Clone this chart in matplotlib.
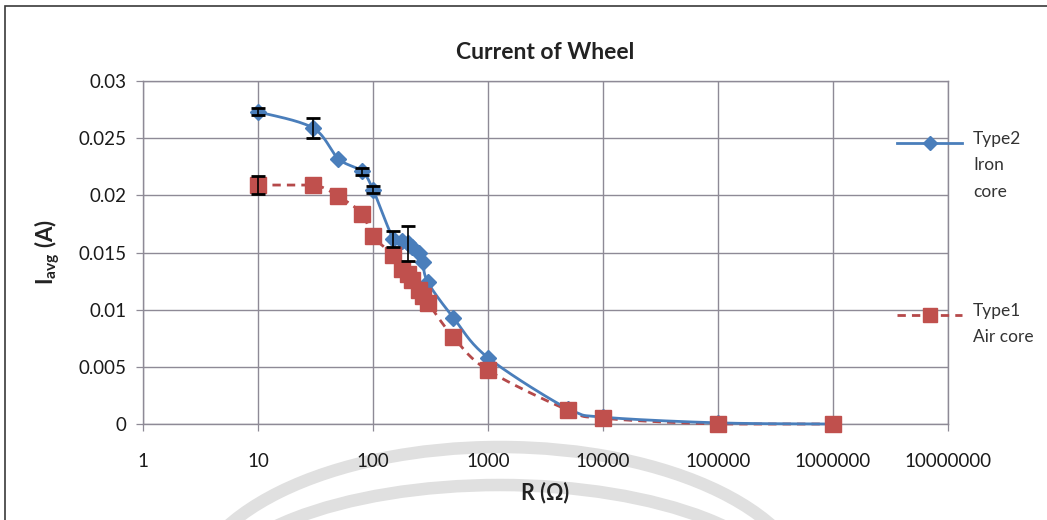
import numpy as np
import matplotlib
matplotlib.use("Agg")
import matplotlib.pyplot as plt
from matplotlib.lines import Line2D
from matplotlib.patches import Arc, Rectangle

plt.rcParams['font.family'] = ['Lato', 'DejaVu Sans']
plt.rcParams['mathtext.fontset'] = 'custom'
plt.rcParams['mathtext.rm'] = 'Lato'
plt.rcParams['mathtext.bf'] = 'Lato:bold'

# Resistance values (ohm)
resistance = [10, 30, 50, 80, 100, 150, 180, 200, 220, 250, 270, 300,
              500, 1000, 5000, 10000, 100000, 1000000]

# Type2, iron core: average current (A) and error
iron_current = [0.0273, 0.0259, 0.0232, 0.0221, 0.0205, 0.0162, 0.0160, 0.0158,
                0.0155, 0.0150, 0.0142, 0.0124, 0.0093, 0.0058, 0.0013, 0.0006,
                0.0001, 0.0000]
iron_error = [0.0003, 0.0009, 0.0, 0.0003, 0.0003, 0.0007, 0.0, 0.0015,
              0.0, 0.0, 0.0, 0.0, 0.0, 0.0, 0.0, 0.0, 0.0, 0.0]

# Type1, air core: average current (A) and error
air_current = [0.0209, 0.0209, 0.0199, 0.0184, 0.0164, 0.0148, 0.0136, 0.0131,
               0.0126, 0.0117, 0.0112, 0.0106, 0.0076, 0.0047, 0.0012, 0.0005,
               0.0000, 0.0000]
air_error = [0.0008, 0.0, 0.0, 0.0, 0.0, 0.0, 0.0, 0.0, 0.0, 0.0, 0.0, 0.0,
             0.0, 0.0, 0.0, 0.0, 0.0, 0.0]

x_ticks = [1, 10, 100, 1000, 10000, 100000, 1000000, 10000000]
x_tick_labels = ['1', '10', '100', '1000', '10000', '100000', '1000000', '10000000']
y_ticks = [0, 0.005, 0.01, 0.015, 0.02, 0.025, 0.03]
y_tick_labels = ['0', '0.005', '0.01', '0.015', '0.02', '0.025', '0.03']

BLUE = '#4a7ebb'
RED = '#c0504d'
RED_LINE = '#b5494a'
GRID = '#8e8a96'
DASH = (0, (3.0, 2.2))


def smooth_curve(xs, ys, steps=20):
    """Bezier smoothing through points in (log10 x, y) space, without overshoot."""
    lx = np.log10(np.asarray(xs, float))
    y = np.asarray(ys, float)
    px = np.concatenate([[lx[0]], lx, [lx[-1]]])
    py = np.concatenate([[y[0]], y, [y[-1]]])
    out_x, out_y = [], []
    t = np.linspace(0, 1, steps)
    for i in range(1, len(px) - 2):
        p0, p1, p2, p3 = px[i - 1], px[i], px[i + 1], px[i + 2]
        q0, q1, q2, q3 = py[i - 1], py[i], py[i + 1], py[i + 2]
        s = 1 / 6
        lo, hi = min(q1, q2), max(q1, q2)
        c1x, c1y = p1 + (p2 - p0) * s, np.clip(q1 + (q2 - q0) * s, lo, hi)
        c2x, c2y = p2 - (p3 - p1) * s, np.clip(q2 - (q3 - q1) * s, lo, hi)
        bx = ((1 - t) ** 3) * p1 + 3 * ((1 - t) ** 2) * t * c1x + 3 * (1 - t) * t ** 2 * c2x + t ** 3 * p2
        by = ((1 - t) ** 3) * q1 + 3 * ((1 - t) ** 2) * t * c1y + 3 * (1 - t) * t ** 2 * c2y + t ** 3 * q2
        out_x.extend(bx)
        out_y.extend(by)
    return 10 ** np.array(out_x), np.array(out_y)


W, H = 1047, 520
fig = plt.figure(figsize=(W / 100, H / 100), dpi=100)
fig.patch.set_facecolor('white')

# chart-area frame (open towards the right and bottom edges)
fig.add_artist(Rectangle((5 / W, -0.2), 1.2, 1.2 - 6 / H, transform=fig.transFigure,
                         fill=False, edgecolor='#3a3a3a', linewidth=1.2, zorder=0))

# faint watermark arcs
for rx, ry, cx, cy in [(311, 153, 500, 600), (292, 115, 500, 600)]:
    fig.add_artist(Arc((cx / W, 1 - cy / H), 2 * rx / W, 2 * ry / H,
                       theta1=0, theta2=180, transform=fig.transFigure,
                       color='#e0e0e0', linewidth=9, zorder=0))

ax = fig.add_axes([143 / W, 1 - 424 / H, (948 - 143) / W, (424 - 81) / H])
ax.set_facecolor('none')
ax.set_xscale('log')
ax.set_xlim(1, 1e7)
ax.set_ylim(0, 0.03)

ax.set_xticks(x_ticks)
ax.set_xticklabels(x_tick_labels)
ax.xaxis.set_minor_locator(matplotlib.ticker.NullLocator())
ax.set_yticks(y_ticks)
ax.set_yticklabels(y_tick_labels)
ax.tick_params(axis='both', labelsize=13.5, colors='#1a1a1a', length=5,
               width=0.9, direction='out')
ax.tick_params(axis='x', pad=16, color=GRID)
ax.tick_params(axis='y', pad=7, color=GRID)
ax.grid(True, which='major', color=GRID, linewidth=1.0)
for side in ['left', 'bottom', 'right', 'top']:
    ax.spines[side].set_color(GRID)
    ax.spines[side].set_linewidth(1.0)
ax.set_axisbelow(True)

# Type2 iron core: solid smoothed line with diamond markers
sx, sy = smooth_curve(resistance, iron_current)
ax.plot(sx, sy, color=BLUE, linewidth=2.0, zorder=4, clip_on=False)
ax.plot(resistance, iron_current, linestyle='none', marker='D', markersize=8,
        color=BLUE, markeredgecolor=BLUE, zorder=5, clip_on=False)

# Type1 air core: dashed smoothed line with square markers
sx, sy = smooth_curve(resistance, air_current)
ax.plot(sx, sy, color=RED_LINE, linewidth=2.0, linestyle=DASH, zorder=3, clip_on=False)
ax.plot(resistance, air_current, linestyle='none', marker='s', markersize=11.5,
        color=RED, markeredgecolor=RED, zorder=6, clip_on=False)

# error bars
for cur, err in [(air_current, air_error), (iron_current, iron_error)]:
    e = np.array(err)
    mask = e > 0
    ax.errorbar(np.array(resistance)[mask], np.array(cur)[mask], yerr=e[mask],
                fmt='none', ecolor='black', elinewidth=1.2, capsize=5,
                capthick=2, zorder=8)

ax.set_title('Current of Wheel', fontsize=16.5, fontweight='bold', color='#222222', pad=16)
ax.set_xlabel('R (Ω)', fontsize=15.5, fontweight='bold', color='#222222', labelpad=8)
ax.set_ylabel(r'$\mathbf{I_{avg}}$' + ' (A)', fontsize=16, fontweight='bold',
              color='#222222', labelpad=12)

# legend drawn beside the plot area
lx0, lx1 = 897 / W, 962 / W
fig.add_artist(Line2D([lx0, lx1], [1 - 143 / H] * 2, transform=fig.transFigure,
                      color=BLUE, linewidth=2.0))
fig.add_artist(Line2D([(lx0 + lx1) / 2], [1 - 143 / H], transform=fig.transFigure,
                      color=BLUE, marker='D', markersize=7, linestyle='none'))
fig.add_artist(Line2D([lx0, lx1], [1 - 315 / H] * 2, transform=fig.transFigure,
                      color=RED_LINE, linewidth=2.0, linestyle=DASH))
fig.add_artist(Line2D([(lx0 + lx1) / 2], [1 - 315 / H], transform=fig.transFigure,
                      color=RED, marker='s', markersize=10, linestyle='none'))
fig.text(973 / W, 1 - 131 / H, 'Type2\nIron\ncore', fontsize=12.5, color='#333333',
         va='top', ha='left', linespacing=1.8)
fig.text(973 / W, 1 - 303 / H, 'Type1\nAir core', fontsize=12.5, color='#333333',
         va='top', ha='left', linespacing=1.8)

fig.savefig('out.png', dpi=100, facecolor='white')
